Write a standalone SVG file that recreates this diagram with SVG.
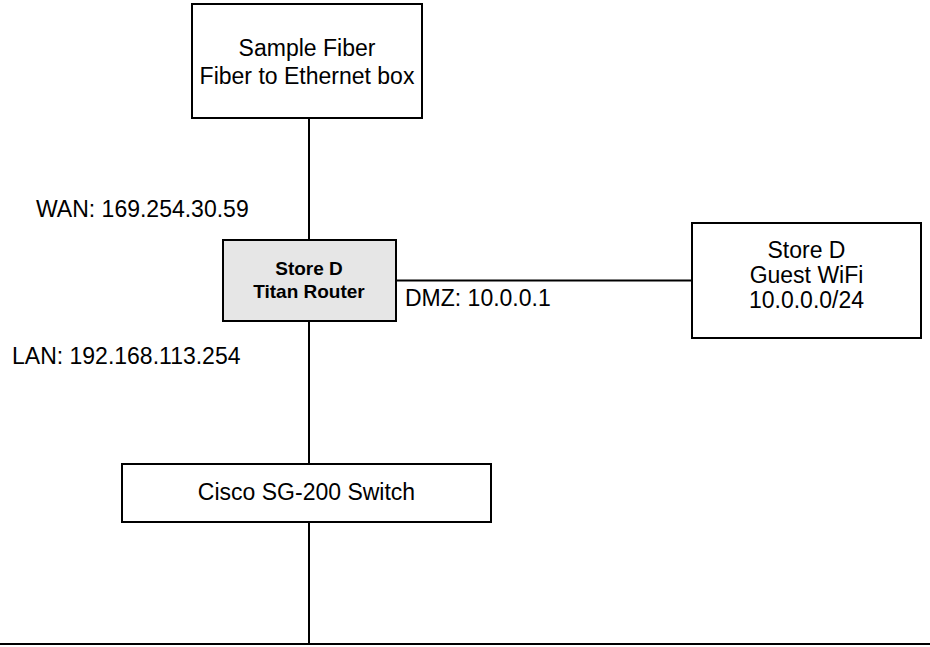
<svg xmlns="http://www.w3.org/2000/svg" width="930" height="647" viewBox="0 0 930 647">
  <style>
    .box { fill: #ffffff; stroke: #000000; stroke-width: 2; }
    .router { fill: #e6e6e6; stroke: #000000; stroke-width: 2; }
    .wire { fill: none; stroke: #000000; stroke-width: 2; }
    .label { font-family: "Liberation Sans", Arial, sans-serif; font-size: 23px; fill: #000000; }
    .mid { text-anchor: middle; }
    .bold { font-weight: bold; font-size: 19px; }
  </style>

  <!-- links -->
  <g id="connectors">
    <line class="wire" x1="309" y1="118" x2="309" y2="240"/>
    <line class="wire" x1="396" y1="280.5" x2="692" y2="280.5"/>
    <line class="wire" x1="309" y1="321" x2="309" y2="464"/>
    <line class="wire" x1="309" y1="522" x2="309" y2="644"/>
    <line class="wire" x1="0" y1="644" x2="930" y2="644"/>
  </g>

  <!-- interface addresses -->
  <g id="port-labels">
    <text class="label" x="36" y="217">WAN: 169.254.30.59</text>
    <text class="label" x="12" y="364">LAN: 192.168.113.254</text>
    <text class="label" x="405" y="306">DMZ: 10.0.0.1</text>
  </g>

  <g id="fiber-box">
    <rect class="box" x="192" y="4" width="230" height="114"/>
    <text class="label mid" x="307" y="56">Sample Fiber</text>
    <text class="label mid" x="307" y="84">Fiber to Ethernet box</text>
  </g>

  <g id="router">
    <rect class="router" x="223" y="240" width="173" height="81"/>
    <text class="label mid bold" x="309" y="275">Store D</text>
    <text class="label mid bold" x="309" y="298">Titan Router</text>
  </g>

  <g id="guest-wifi">
    <rect class="box" x="692" y="223" width="229" height="115"/>
    <text class="label mid" x="806.5" y="258">Store D</text>
    <text class="label mid" x="806.5" y="283">Guest WiFi</text>
    <text class="label mid" x="806.5" y="308">10.0.0.0/24</text>
  </g>

  <g id="switch">
    <rect class="box" x="122" y="464" width="369" height="58"/>
    <text class="label mid" x="306.5" y="500">Cisco SG-200 Switch</text>
  </g>
</svg>
